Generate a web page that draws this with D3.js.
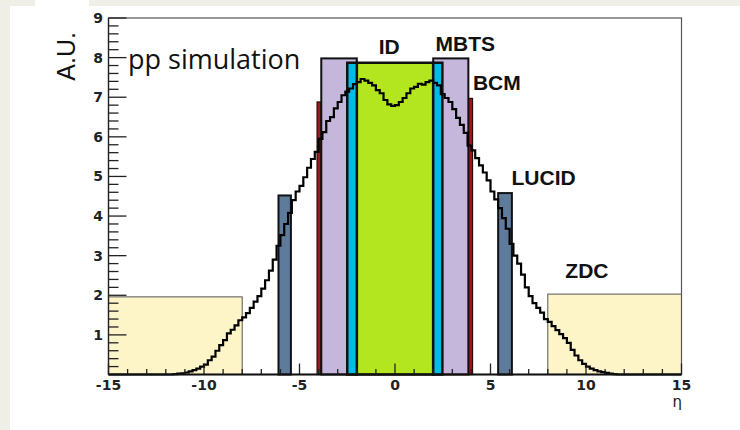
<!DOCTYPE html>
<html>
<head>
<meta charset="utf-8">
<script src="https://cdn.jsdelivr.net/npm/d3@7"></script>
<style>
  html, body { margin: 0; padding: 0; background: #efeee7; }
  svg { display: block; }
</style>
</head>
<body>
<svg id="chart" width="740" height="430"></svg>
<script>
// Pseudorapidity distribution (pp simulation), 0.2-wide bins from -12 to 12
const histStart = -12;
const histStep = 0.2;
const histCounts = [
  0.00, 0.00, 0.01, 0.02, 0.03, 0.05, 0.08, 0.11, 0.15, 0.20,
  0.25, 0.36, 0.45, 0.60, 0.74, 0.87, 1.04, 1.13, 1.24, 1.37,
  1.44, 1.55, 1.68, 1.84, 1.98, 2.17, 2.38, 2.62, 2.90, 3.25,
  3.52, 3.80, 4.08, 4.40, 4.62, 4.76, 4.98, 5.22, 5.44, 5.62,
  5.95, 6.12, 6.40, 6.50, 6.72, 6.88, 7.05, 7.14, 7.22, 7.33,
  7.38, 7.46, 7.42, 7.36, 7.30, 7.18, 7.10, 6.93, 6.82, 6.78,
  6.80, 6.88, 6.98, 7.10, 7.22, 7.26, 7.34, 7.32, 7.38, 7.42,
  7.36, 7.30, 7.08, 6.98, 6.88, 6.70, 6.48, 6.30, 6.10, 5.78,
  5.66, 5.46, 5.28, 5.10, 4.90, 4.62, 4.42, 4.20, 3.95, 3.68,
  3.30, 3.00, 2.80, 2.52, 2.20, 1.98, 1.80, 1.68, 1.56, 1.40,
  1.33, 1.22, 1.12, 1.02, 0.92, 0.80, 0.62, 0.48, 0.36, 0.27,
  0.20, 0.15, 0.11, 0.08, 0.06, 0.04, 0.02, 0.01, 0.00, 0.00
];

// Detector acceptance boxes [etaMin, etaMax, height], in drawing order
const zdcBoxes   = [[-15, -8, 1.96], [8, 15, 2.03]];
const lucidBoxes = [[-6.1, -5.45, 4.52], [5.4, 6.12, 4.58]];
const bcmBoxes   = [[-4.08, -3.86, 6.88], [3.8, 4.06, 6.97]];
const mbtsBoxes  = [[-3.86, -2.0, 7.98], [2.0, 3.84, 7.98]];
const idBoxes    = [[-2.0, 2.0, 7.87]];
const trtBoxes   = [[-2.5, -2.0, 7.87], [2.0, 2.48, 7.87]];

// Detector labels: [text, eta, value]
const detectorLabels = [
  ["ID", -0.3, 8.1],
  ["MBTS", 3.68, 8.17],
  ["BCM", 5.33, 7.17],
  ["LUCID", 7.78, 4.78],
  ["ZDC", 10.05, 2.43]
];

const xTicks = [-15, -10, -5, 0, 5, 10, 15];
const yTicks = [1, 2, 3, 4, 5, 6, 7, 8, 9];

const svg = d3.select("#chart");

// white panel and small tab
svg.append("rect").attr("x", 10).attr("y", 6).attr("width", 730).attr("height", 424).attr("fill", "#ffffff");
svg.append("rect").attr("x", 35).attr("y", 0).attr("width", 54).attr("height", 6).attr("fill", "#ffffff");

const x = d3.scaleLinear().domain([-15, 15]).range([108.5, 681.5]);
const y = d3.scaleLinear().domain([0, 9]).range([374.5, 18]);

const plot = svg.append("g");

function boxes(list, fill, stroke, sw) {
  plot.append("g").selectAll("rect").data(list).join("rect")
    .attr("x", d => x(d[0]))
    .attr("y", d => y(d[2]))
    .attr("width", d => x(d[1]) - x(d[0]))
    .attr("height", d => y(0) - y(d[2]))
    .attr("fill", fill)
    .attr("stroke", stroke)
    .attr("stroke-width", sw);
}

boxes(zdcBoxes, "#fdf5c8", "#555", 1);
boxes(lucidBoxes, "#5f7b9c", "#111", 2);
boxes(bcmBoxes, "#a3161a", "#2a0a0a", 1.2);
boxes(mbtsBoxes, "#c4b7db", "#111", 2);
boxes(idBoxes, "#b4e61f", "#111", 2.5);
boxes(trtBoxes, "#00bde8", "#111", 2.5);

// histogram as a step line
const pts = [[-15, 0]];
histCounts.forEach((v, i) => pts.push([histStart + i * histStep, v]));
pts.push([histStart + histCounts.length * histStep, 0]);
pts.push([15, 0]);

const line = d3.line().x(d => x(d[0])).y(d => y(d[1])).curve(d3.curveStepAfter);
plot.append("path").attr("d", line(pts))
  .attr("fill", "none").attr("stroke", "#000").attr("stroke-width", 2.2)
  .attr("stroke-linejoin", "miter");

// frame
svg.append("rect")
  .attr("x", x(-15)).attr("y", y(9))
  .attr("width", x(15) - x(-15)).attr("height", y(0) - y(9))
  .attr("fill", "none").attr("stroke", "#555").attr("stroke-width", 1.2);

// axes with inward ticks
const axisG = svg.append("g");
const yMinor = d3.range(0, 9.001, 0.2);
axisG.selectAll(".ym").data(yMinor).join("line")
  .attr("x1", x(-15)).attr("x2", (d) => Math.abs(d - Math.round(d)) < 1e-6 ? x(-15) + 18 : x(-15) + 10)
  .attr("y1", d => y(d)).attr("y2", d => y(d))
  .attr("stroke", "#222").attr("stroke-width", 1.3);
const xMinor = d3.range(-15, 15.001, 1);
axisG.selectAll(".xm").data(xMinor).join("line")
  .attr("x1", d => x(d)).attr("x2", d => x(d))
  .attr("y1", y(0)).attr("y2", d => (d % 5 === 0) ? y(0) - 11 : y(0) - 5.5)
  .attr("stroke", "#222").attr("stroke-width", 1.3);
axisG.append("line").attr("x1", x(-15)).attr("x2", x(-15)).attr("y1", y(0)).attr("y2", y(9))
  .attr("stroke", "#222").attr("stroke-width", 1.3);
axisG.append("line").attr("x1", x(-15)).attr("x2", x(15)).attr("y1", y(0)).attr("y2", y(0))
  .attr("stroke", "#111").attr("stroke-width", 1.8);

const tickFont = "'DejaVu Sans', Verdana, sans-serif";
const labelFont = "'Liberation Sans', Arial, sans-serif";
axisG.selectAll(".xl").data(xTicks).join("text")
  .attr("x", d => x(d)).attr("y", 390)
  .attr("text-anchor", "middle")
  .attr("font-family", tickFont).attr("font-weight", "bold").attr("font-size", 14)
  .attr("fill", "#222")
  .text(d => d);
axisG.selectAll(".yl").data(yTicks).join("text")
  .attr("x", 103).attr("y", d => y(d)).attr("dy", "0.36em")
  .attr("text-anchor", "end")
  .attr("font-family", tickFont).attr("font-weight", "bold").attr("font-size", 14)
  .attr("fill", "#222")
  .text(d => d);

// axis titles
svg.append("text").attr("x", 682).attr("y", 407).attr("text-anchor", "end")
  .attr("font-family", "'DejaVu Sans', sans-serif").attr("font-size", 15).attr("fill", "#222")
  .text("η");
svg.append("text").attr("transform", "translate(75,32) rotate(-90)")
  .attr("text-anchor", "end")
  .attr("font-family", labelFont).attr("font-size", 25).attr("fill", "#111")
  .text("A.U.");

svg.append("text").attr("x", 128).attr("y", 69)
  .attr("font-family", "'Open Sans', Lato, sans-serif").attr("font-size", 27).attr("fill", "#111")
  .text("pp simulation");

// detector names
svg.append("g").selectAll("text").data(detectorLabels).join("text")
  .attr("x", d => x(d[1])).attr("y", d => y(d[2]))
  .attr("text-anchor", "middle")
  .attr("font-family", labelFont).attr("font-weight", "bold").attr("font-size", 21)
  .attr("fill", "#111")
  .text(d => d[0]);
</script>
</body>
</html>
